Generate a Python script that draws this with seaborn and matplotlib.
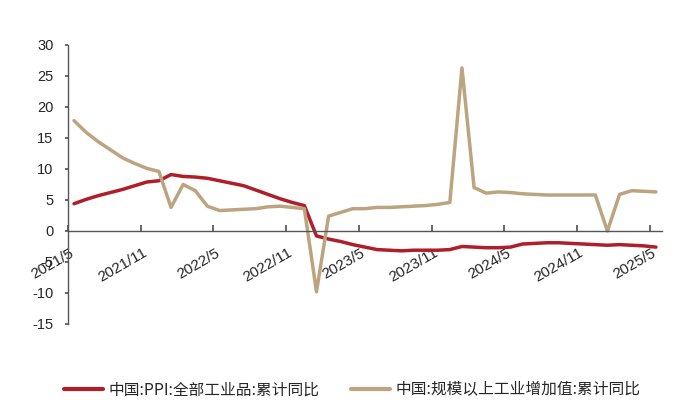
import numpy as np
import pandas as pd
import matplotlib
matplotlib.use("Agg")
import matplotlib.pyplot as plt
import seaborn as sns
from matplotlib.lines import Line2D

# 2021/5 .. 2025/5 monthly
months = [f"{p.year}/{p.month}" for p in pd.period_range("2021-05", "2025-05", freq="M")]

ppi = [4.4, 5.1, 5.7, 6.2, 6.7, 7.3, 7.9, 8.1,
       9.1, 8.8, 8.7, 8.5, 8.1, 7.7, 7.3, 6.6, 5.9, 5.2, 4.6, 4.1,
       -0.8, -1.3, -1.7, -2.2, -2.6, -3.0, -3.1, -3.2, -3.1, -3.1, -3.1, -3.0,
       -2.5, -2.6, -2.7, -2.7, -2.6, -2.1, -2.0, -1.9, -1.9, -2.0, -2.1, -2.2,
       -2.3, -2.2, -2.3, -2.4, -2.6]
iva = [17.8, 15.9, 14.4, 13.1, 11.8, 10.9, 10.1, 9.6,
       3.8, 7.5, 6.5, 4.0, 3.3, 3.4, 3.5, 3.6, 3.9, 4.0, 3.8, 3.6,
       -9.8, 2.4, 3.0, 3.6, 3.6, 3.8, 3.8, 3.9, 4.0, 4.1, 4.3, 4.6,
       26.3, 7.0, 6.1, 6.3, 6.2, 6.0, 5.9, 5.8, 5.8, 5.8, 5.8, 5.8,
       0.0, 5.9, 6.5, 6.4, 6.3]
series_names = ["中国:PPI:全部工业品:累计同比", "中国:规模以上工业增加值:累计同比"]
tick_labels = ["2021/5", "2021/11", "2022/5", "2022/11", "2023/5",
               "2023/11", "2024/5", "2024/11", "2025/5"]

sns.set_theme(style="white")
plt.rcParams['font.family'] = ['Liberation Sans', 'Noto Sans CJK SC', 'DejaVu Sans']

n = len(months)
xpos = np.arange(n) + 0.5
df = pd.DataFrame({
    "x": np.concatenate([xpos, xpos]),
    "value": ppi + iva,
    "series": [series_names[0]] * n + [series_names[1]] * n,
})

fig = plt.figure(figsize=(7.0, 4.15), dpi=100)
ax = fig.add_axes([0.0971, 0.2193, 0.8486, 0.6723])

palette = {series_names[0]: "#AE1F2A", series_names[1]: "#BBA47F"}
sns.lineplot(data=df, x="x", y="value", hue="series", palette=palette,
             linewidth=2.5, ax=ax, legend=False, sort=False)

for s in ["top", "right"]:
    ax.spines[s].set_visible(False)
ax.spines["bottom"].set_position(("data", 0))
for s in ["bottom", "left"]:
    ax.spines[s].set_color("#555555")
    ax.spines[s].set_linewidth(1.0)

ax.set_xlim(0, n)
ax.set_ylim(-15, 30)
ax.set_yticks(np.arange(-15, 31, 5))
ax.set_yticklabels([str(v) for v in range(-15, 31, 5)], fontsize=10.5)

tick_idx = [months.index(t) for t in tick_labels]
ax.set_xticks(tick_idx)
ax.set_xticklabels([""] * len(tick_idx))
ax.set_xticks([i + 0.42 for i in tick_idx], minor=True)
ax.set_xticklabels(tick_labels, minor=True, rotation=30, ha="right", va="center",
                   rotation_mode="anchor", fontsize=11)
ax.set_xlabel("")
ax.set_ylabel("")

ax.tick_params(axis="x", which="major", direction="in", length=4, color="#555555", bottom=True)
ax.tick_params(axis="x", which="minor", length=0, pad=15, bottom=True)
ax.tick_params(axis="y", direction="out", length=2.5, color="#555555", pad=8, left=True)
ax.grid(False)

handles = [Line2D([0], [0], color=palette[s], linewidth=3.0) for s in series_names]
fig.legend(handles, series_names, loc="center", bbox_to_anchor=(0.5036, 0.06), ncol=2,
           frameon=False, handlelength=2.5, handletextpad=0.35, columnspacing=2.0,
           prop={'family': ['Noto Sans CJK SC', 'DejaVu Sans'], 'size': 11.3})

fig.savefig("out.png", dpi=100)
